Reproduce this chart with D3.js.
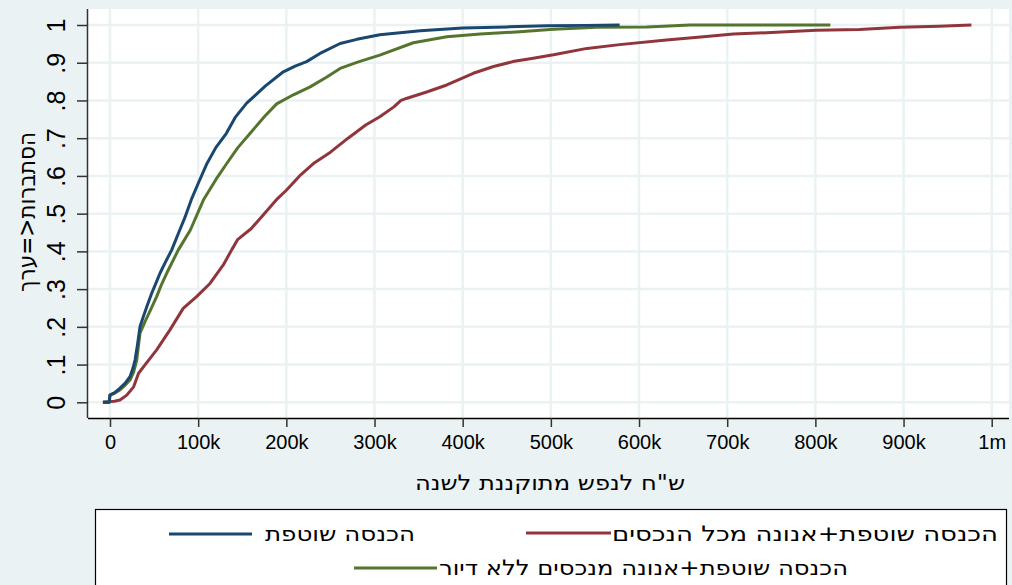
<!DOCTYPE html>
<html>
<head>
<meta charset="utf-8">
<script src="https://cdn.jsdelivr.net/npm/d3@7"></script>
<style>
  html, body { margin: 0; padding: 0; background: #eaf2f3; }
  svg { display: block; }
  text { font-family: "Liberation Sans", Arial, sans-serif; fill: #000; }
  .heb { font-family: "DejaVu Sans", sans-serif; }
</style>
</head>
<body>
<svg id="chart" width="1012" height="585"></svg>
<script>
// Cumulative distribution of per-capita standardised annual income (thousands of NIS)
// Each series: [income (k NIS), cumulative share]
const seriesNames = [
  "הכנסה שוטפת",
  "הכנסה שוטפת+אנונה מכל הנכסים",
  "הכנסה שוטפת+אנונה מנכסים ללא דיור"
];
const seriesColors = ["#1a476f", "#90353b", "#55752f"];

const currentIncome = [
  [-8,0],[-1,0],[0,0.02],[5,0.025],[11,0.037],[17,0.05],[22.7,0.068],[26,0.09],
  [28.4,0.112],[31,0.15],[34,0.2],[37.8,0.227],[42,0.255],[47.3,0.289],[52,0.315],
  [56.7,0.342],[63,0.372],[70,0.404],[79,0.456],[85,0.49],[92.7,0.54],[100,0.58],
  [110,0.633],[120,0.675],[132,0.713],[142,0.755],[155,0.793],[165,0.814],[176,0.838],
  [196.6,0.876],[210,0.891],[223,0.903],[240,0.927],[261,0.951],[280,0.962],[306,0.974],
  [352,0.985],[400,0.992],[450,0.995],[496,0.998],[540,0.999],[578,1.0]
];

const incomeAllAssets = [
  [-8,0],[5,0.003],[11.3,0.006],[19,0.019],[26.8,0.041],[32.4,0.077],[39.7,0.099],
  [52.9,0.139],[68,0.192],[83,0.249],[98.2,0.28],[113.4,0.315],[128.5,0.364],[138,0.404],
  [145,0.432],[160,0.46],[175,0.5],[190,0.54],[200,0.562],[215,0.6],[232,0.635],
  [250,0.663],[270,0.7],[290,0.735],[306,0.757],[322,0.783],[330,0.8],[337,0.806],
  [360,0.823],[382,0.841],[412,0.872],[435,0.89],[457,0.903],[480,0.912],[503,0.921],
  [541,0.938],[578,0.948],[631,0.96],[670,0.968],[707,0.976],[750,0.98],[801,0.986],
  [850,0.988],[896,0.994],[940,0.997],[977,1.0]
];

const incomeNonHousing = [
  [-8,0],[-1,0],[0,0.019],[5,0.024],[11.3,0.033],[17,0.045],[22.7,0.059],[26.8,0.08],
  [30.3,0.112],[34,0.183],[39.7,0.214],[46,0.245],[52.9,0.28],[58,0.31],[64.3,0.342],
  [77.5,0.404],[91,0.456],[105.9,0.536],[120,0.59],[132.4,0.633],[145,0.675],[159,0.713],
  [175,0.757],[189,0.791],[208,0.815],[227,0.836],[245,0.861],[261,0.885],[280,0.901],
  [306,0.92],[344,0.953],[382,0.969],[420,0.976],[465,0.982],[503,0.989],[552,0.994],
  [609,0.995],[658,1.0],[817,1.0]
];

const xTickValues = [0,100,200,300,400,500,600,700,800,900,1000];
const xTickLabels = ["0","100k","200k","300k","400k","500k","600k","700k","800k","900k","1m"];
const yTickValues = [0,0.1,0.2,0.3,0.4,0.5,0.6,0.7,0.8,0.9,1];
const yTickLabels = ["0",".1",".2",".3",".4",".5",".6",".7",".8",".9","1"];

const xTitle = 'ש"ח לנפש מתוקננת לשנה';
const yTitle = "הסתברות<=ערך";

// ---- layout ----
const svg = d3.select("#chart");
const W = 1012, H = 585;
const plot = { left: 88, right: 1009, top: 9, bottom: 418 };

const x = d3.scaleLinear().domain([-24.95, 1019.6]).range([plot.left, plot.right]);
const y = d3.scaleLinear().domain([-0.0416, 1.0424]).range([plot.bottom, plot.top]);

svg.append("rect").attr("width", W).attr("height", H).attr("fill", "#eaf2f3");

// plot region
svg.append("rect")
  .attr("x", plot.left).attr("y", plot.top)
  .attr("width", plot.right - plot.left).attr("height", plot.bottom - plot.top)
  .attr("fill", "#fff");

// grid
const grid = svg.append("g").attr("stroke", "#eaf2f3").attr("stroke-width", 2.5);
grid.selectAll("line.v").data(xTickValues).join("line")
  .attr("x1", d => x(d)).attr("x2", d => x(d))
  .attr("y1", plot.top).attr("y2", plot.bottom);
grid.selectAll("line.h").data(yTickValues).join("line")
  .attr("y1", d => y(d)).attr("y2", d => y(d))
  .attr("x1", plot.left).attr("x2", plot.right);

// curves
const line = d3.line().x(d => x(d[0])).y(d => y(d[1]));
const series = [currentIncome, incomeAllAssets, incomeNonHousing];
// draw order: red, green, blue on top
[1, 2, 0].forEach(i => {
  svg.append("path")
    .datum(series[i])
    .attr("d", line)
    .attr("fill", "none")
    .attr("stroke", seriesColors[i])
    .attr("stroke-width", 3)
    .attr("stroke-linejoin", "round");
});

// x axis
const xAxis = d3.axisBottom(x).tickValues(xTickValues)
  .tickFormat((d, i) => xTickLabels[i]).tickSize(9).tickPadding(8);
const gx = svg.append("g").attr("transform", `translate(0,${plot.bottom})`).call(xAxis);
gx.select(".domain").attr("d", `M${plot.left},0.5H${plot.right}`).attr("stroke", "#000").attr("stroke-width", 1.5);
gx.selectAll(".tick line").attr("stroke", "#333").attr("stroke-width", 1.5);
gx.selectAll(".tick text")
  .style("font-family", '"Liberation Sans", Arial, sans-serif')
  .style("font-size", "20px").attr("fill", "#000");

// y axis
const yAxis = d3.axisLeft(y).tickValues(yTickValues)
  .tickFormat((d, i) => yTickLabels[i]).tickSize(11);
const gy = svg.append("g").attr("transform", `translate(${plot.left},0)`).call(yAxis);
gy.select(".domain").attr("d", `M-0.5,${plot.top}V${plot.bottom}`).attr("stroke", "#333").attr("stroke-width", 1.5);
gy.selectAll(".tick line").attr("stroke", "#333").attr("stroke-width", 1.5);
gy.selectAll(".tick text")
  .attr("x", null).attr("dy", null)
  .attr("text-anchor", "middle")
  .attr("transform", "translate(-23,0) rotate(-90)")
  .style("font-family", '"Liberation Sans", Arial, sans-serif')
  .style("font-size", "25px").attr("fill", "#000");

// axis titles
svg.append("text")
  .attr("class", "heb")
  .attr("x", 550).attr("y", 490)
  .attr("text-anchor", "middle")
  .attr("textLength", 270).attr("lengthAdjust", "spacingAndGlyphs")
  .style("font-size", "21px")
  .text(xTitle);

svg.append("text")
  .attr("class", "heb")
  .attr("transform", "translate(35,212) rotate(-90)")
  .attr("text-anchor", "middle")
  .attr("textLength", 160).attr("lengthAdjust", "spacingAndGlyphs")
  .style("font-size", "24px")
  .text(yTitle);

// legend
const lg = svg.append("g");
lg.append("rect")
  .attr("x", 95.5).attr("y", 509.5)
  .attr("width", 911).attr("height", 90)
  .attr("fill", "#fff").attr("stroke", "#000").attr("stroke-width", 1.2);

const legendItems = [
  { i: 0, x1: 169, x2: 252, ly: 534, tx: 265, tw: 150, ty: 541 },
  { i: 1, x1: 526, x2: 611, ly: 533, tx: 612, tw: 386, ty: 541 },
  { i: 2, x1: 354, x2: 437, ly: 568, tx: 439, tw: 409, ty: 575 }
];
legendItems.forEach(it => {
  lg.append("line")
    .attr("x1", it.x1).attr("x2", it.x2)
    .attr("y1", it.ly).attr("y2", it.ly)
    .attr("stroke", seriesColors[it.i]).attr("stroke-width", 3);
  lg.append("text")
    .attr("class", "heb")
    .attr("x", it.tx + it.tw / 2).attr("y", it.ty)
    .attr("text-anchor", "middle")
    .attr("textLength", it.tw).attr("lengthAdjust", "spacingAndGlyphs")
    .style("font-size", "21px")
    .text(seriesNames[it.i]);
});
</script>
</body>
</html>
